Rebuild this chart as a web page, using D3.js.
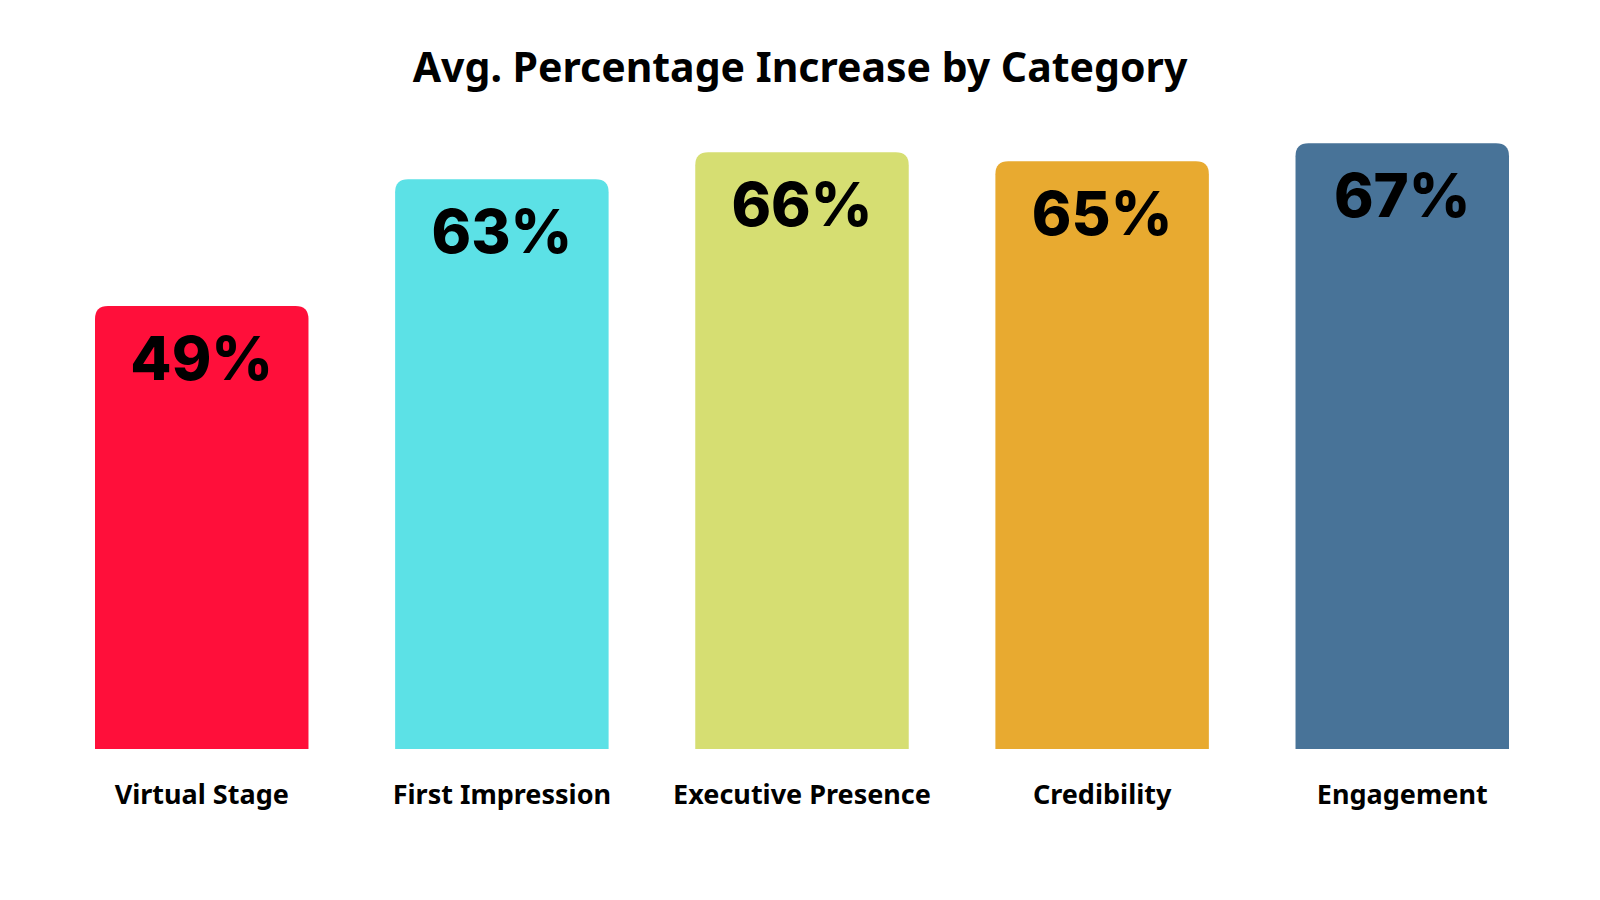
<!DOCTYPE html>
<html>
<head>
<meta charset="utf-8">
<script src="https://cdn.jsdelivr.net/npm/d3@7"></script>
<style>
  html, body { margin: 0; padding: 0; background: #fff; }
</style>
</head>
<body>
<div id="chart"></div>
<script>
const categories = ['Virtual Stage', 'First Impression', 'Executive Presence', 'Credibility', 'Engagement']
const values = [49, 63, 66, 65, 67]
const colors = ['#FF0F3A', '#5CE1E6', '#D6DE72', '#E8AA30', '#487398']
const title = 'Avg. Percentage Increase by Category'

const width = 1600
const height = 900
const baseline = 749
const radius = 13

const svg = d3
  .select('#chart')
  .append('svg')
  .attr('width', width)
  .attr('height', height)

const xScale = d3
  .scaleBand()
  .domain(categories)
  .range([95, 1509])
  .paddingInner(0.2887)
  .paddingOuter(0)

const yScale = d3.scaleLinear().domain([0, 70]).range([baseline, 116])

const colorScale = d3.scaleOrdinal().domain(categories).range(colors)

const data = categories.map((name, i) => ({ name, value: values[i] }))

// bars with rounded top corners only
function barPath(d) {
  const x0 = xScale(d.name)
  const x1 = x0 + xScale.bandwidth()
  const y0 = yScale(0)
  const y1 = yScale(d.value)
  const r = radius
  return `M${x0},${y0}V${y1 + r}Q${x0},${y1} ${x0 + r},${y1}H${x1 - r}Q${x1},${y1} ${x1},${y1 + r}V${y0}Z`
}

svg
  .append('g')
  .selectAll('path')
  .data(data)
  .join('path')
  .attr('d', barPath)
  .attr('fill', (d) => colorScale(d.name))

svg
  .append('g')
  .attr('font-family', 'Inter, Roboto, sans-serif')
  .attr('font-weight', 800)
  .attr('font-size', 60)
  .attr('text-anchor', 'middle')
  .attr('fill', '#000')
  .selectAll('text')
  .data(data)
  .join('text')
  .attr('x', (d) => xScale(d.name) + xScale.bandwidth() / 2)
  .attr('y', (d) => yScale(d.value) + 74)
  .text((d) => d.value + '%')

// category axis, no line or ticks
const xAxis = d3.axisBottom(xScale).tickSize(0).tickPadding(0)
svg
  .append('g')
  .attr('transform', `translate(0, ${baseline})`)
  .call(xAxis)
  .call((g) => g.select('.domain').remove())
  .call((g) =>
    g
      .selectAll('text')
      .attr('font-family', '"Noto Sans", sans-serif')
      .attr('font-weight', 700)
      .attr('font-size', 27)
      .attr('fill', '#000')
      .attr('dy', 0)
      .attr('y', 55)
  )

svg
  .append('text')
  .attr('x', 800)
  .attr('y', 82)
  .attr('text-anchor', 'middle')
  .attr('font-family', '"Noto Sans", sans-serif')
  .attr('font-weight', 700)
  .attr('font-size', 41)
  .attr('fill', '#000')
  .text(title)
</script>
</body>
</html>
